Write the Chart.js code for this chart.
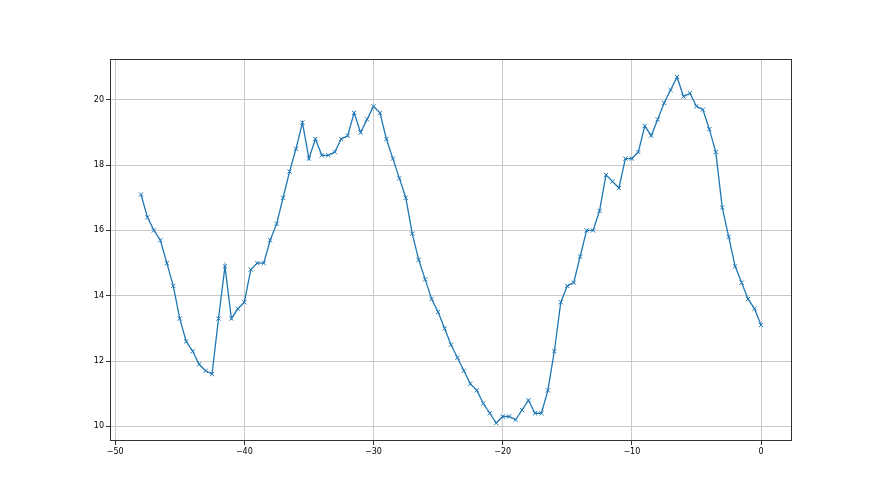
<!DOCTYPE html>
<html>
<head>
<meta charset="utf-8">
<script src="https://cdn.jsdelivr.net/npm/chart.js@4/dist/chart.umd.min.js"></script>
<style>
  html, body { margin: 0; padding: 0; background: #fff; }
  #wrap { width: 880px; height: 495px; }
</style>
</head>
<body>
<div id="wrap"><canvas id="c" width="880" height="495"></canvas></div>
<script>
const xStart = -48, xStep = 0.5;
const yValues = [
  17.1, 16.4, 16.0, 15.7, 15.0, 14.3, 13.3, 12.6, 12.3, 11.9, 11.7, 11.6,
  13.3, 14.9, 13.3, 13.6, 13.8, 14.8, 15.0, 15.0, 15.7, 16.2, 17.0, 17.8,
  18.5, 19.3, 18.2, 18.8, 18.3, 18.3, 18.4, 18.8, 18.9, 19.6, 19.0, 19.4,
  19.8, 19.6, 18.8, 18.2, 17.6, 17.0, 15.9, 15.1, 14.5, 13.9, 13.5, 13.0,
  12.5, 12.1, 11.7, 11.3, 11.1, 10.7, 10.4, 10.1, 10.3, 10.3, 10.2, 10.5,
  10.8, 10.4, 10.4, 11.1, 12.3, 13.8, 14.3, 14.4, 15.2, 16.0, 16.0, 16.6,
  17.7, 17.5, 17.3, 18.2, 18.2, 18.4, 19.2, 18.9, 19.4, 19.9, 20.3, 20.7,
  20.1, 20.2, 19.8, 19.7, 19.1, 18.4, 16.7, 15.8, 14.9, 14.4, 13.9, 13.6, 13.1
];
const xValues = yValues.map((_, i) => xStart + i * xStep);
const xTicks = [-50, -40, -30, -20, -10, 0];
const xTickLabels = ['\u221250', '\u221240', '\u221230', '\u221220', '\u221210', '0'];
const yTicks = [10, 12, 14, 16, 18, 20];
const yTickLabels = ['10', '12', '14', '16', '18', '20'];

const points = xValues.map((x, i) => ({ x: x, y: yValues[i] }));

const framePlugin = {
  id: 'frame',
  afterDatasetsDraw(chart) {
    const a = chart.chartArea, ctx = chart.ctx;
    ctx.save();
    ctx.strokeStyle = '#333333';
    ctx.lineWidth = 1;
    ctx.strokeRect(Math.round(a.left) + 0.5, Math.round(a.top) + 0.5,
                   Math.round(a.right - a.left) - 1, Math.round(a.bottom - a.top) - 1);
    ctx.restore();
  }
};

new Chart(document.getElementById('c'), {
  type: 'scatter',
  data: {
    datasets: [{
      data: points,
      showLine: true,
      borderColor: '#1f77b4',
      backgroundColor: '#1f77b4',
      borderWidth: 1.3,
      pointStyle: 'crossRot',
      pointRadius: 3,
      pointBorderWidth: 1,
      pointBorderColor: '#1f77b4',
      tension: 0
    }]
  },
  options: {
    responsive: false,
    animation: false,
    devicePixelRatio: 1,
    layout: { padding: { left: 0, right: 88, top: 59, bottom: 0 } },
    plugins: { legend: { display: false }, tooltip: { enabled: false } },
    scales: {
      x: {
        type: 'linear',
        min: -50.4, max: 2.4,
        afterBuildTicks(s) { s.ticks = xTicks.map(v => ({ value: v })); },
        afterFit(s) { s.height = 54; },
        grid: { color: '#c8c8c8', lineWidth: 1, drawTicks: true, tickLength: 4, tickColor: '#333333' },
        border: { display: false },
        ticks: {
          color: '#000', font: { family: 'DejaVu Sans', size: 8 }, padding: 2,
          maxRotation: 0, autoSkip: false,
          callback(v) { const i = xTicks.indexOf(v); return i >= 0 ? xTickLabels[i] : ''; }
        }
      },
      y: {
        type: 'linear',
        min: 9.55, max: 21.25,
        afterBuildTicks(s) { s.ticks = yTicks.map(v => ({ value: v })); },
        afterFit(s) { s.width = 110; },
        grid: { color: '#c8c8c8', lineWidth: 1, drawTicks: true, tickLength: 4, tickColor: '#333333' },
        border: { display: false },
        ticks: {
          color: '#000', font: { family: 'DejaVu Sans', size: 8 }, padding: 2,
          autoSkip: false,
          callback(v) { const i = yTicks.indexOf(v); return i >= 0 ? yTickLabels[i] : ''; }
        }
      }
    }
  },
  plugins: [framePlugin]
});
</script>
</body>
</html>
